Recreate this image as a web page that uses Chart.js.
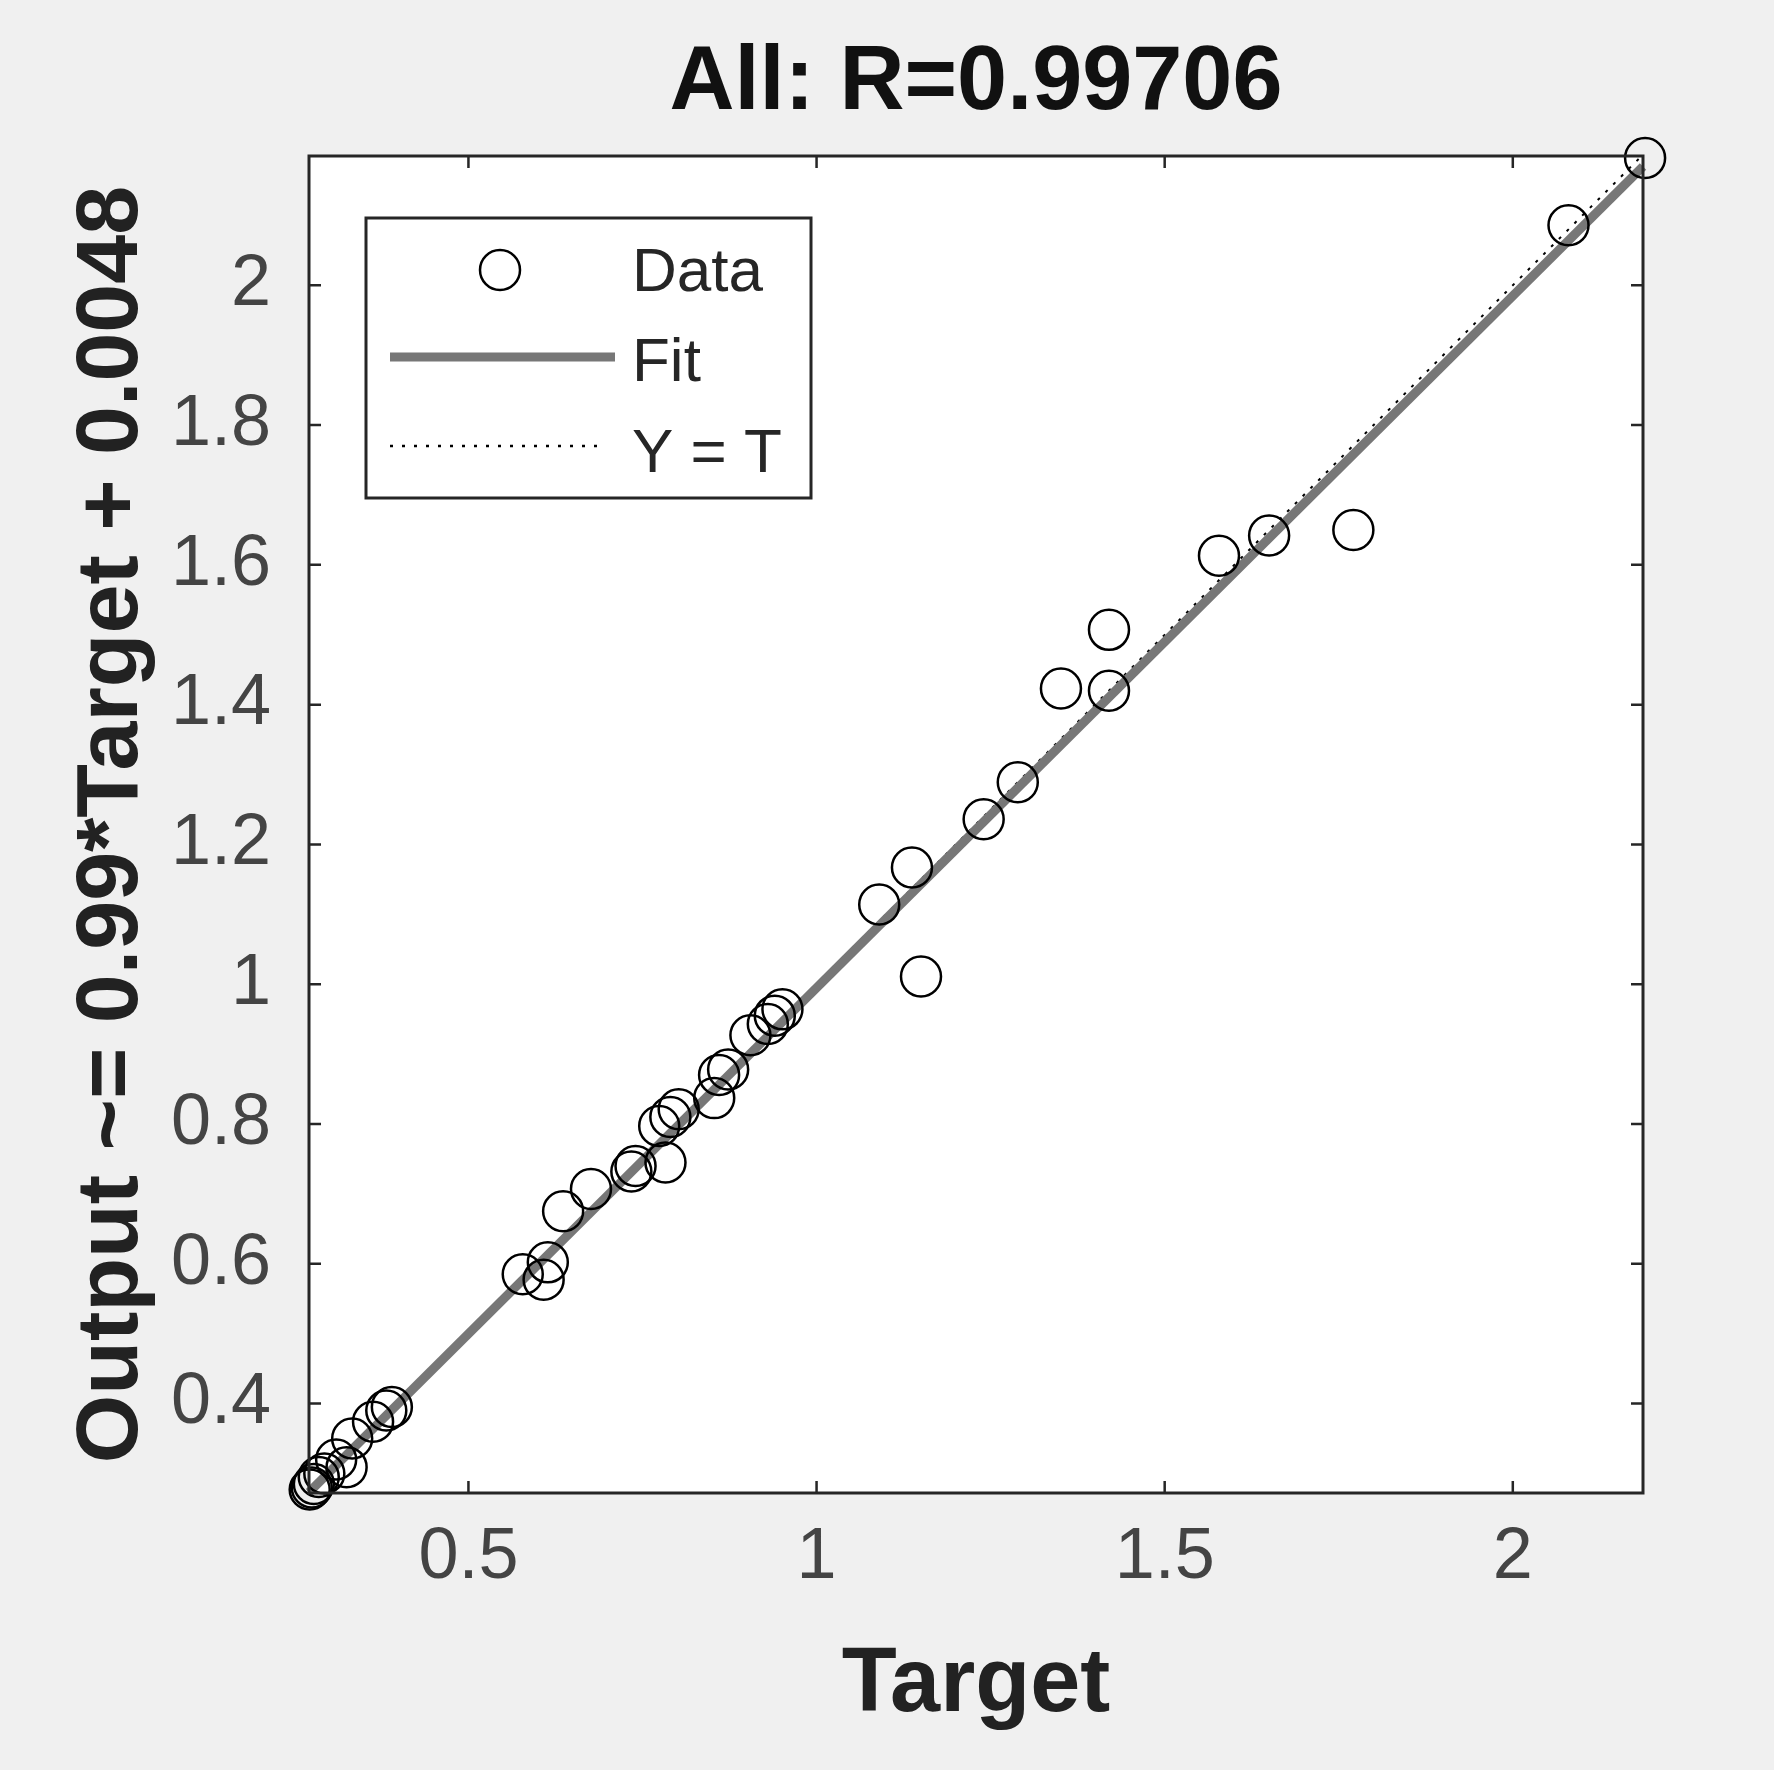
<!DOCTYPE html>
<html><head><meta charset="utf-8">
<script src="https://cdn.jsdelivr.net/npm/chart.js@4"></script>
<style>html,body{margin:0;padding:0;background:#f0f0f0}#w{width:1774px;height:1770px}</style>
</head><body><div id="w"><canvas id="c"></canvas></div>
<script>
const targets = [2.19,2.08,1.771,1.650,1.578,1.42,1.351,1.42,1.289,1.24,1.137,1.09,1.150,0.951,0.94,0.93,0.905,0.873,0.86,0.853,0.802,0.79,0.774,0.783,0.734,0.74,0.676,0.636,0.614,0.608,0.578,0.39,0.382,0.363,0.333,0.325,0.31,0.293,0.285,0.278,0.272,0.275];
const outputs = [2.182,2.086,1.650,1.642,1.613,1.507,1.423,1.42,1.289,1.236,1.167,1.114,1.011,0.964,0.955,0.943,0.927,0.878,0.87,0.837,0.821,0.81,0.797,0.745,0.732,0.74,0.707,0.675,0.602,0.577,0.585,0.395,0.390,0.374,0.35,0.309,0.32,0.30,0.295,0.285,0.277,0.28];
const xTicks = [0.5,1,1.5,2];
const yTicks = [0.4,0.6,0.8,1,1.2,1.4,1.6,1.8,2];
const fitSlope = 0.99, fitIntercept = 0.0048;
const axMin = 0.271, axMax = 2.187;
const fitLine = [{x:axMin,y:fitSlope*axMin+fitIntercept},{x:axMax,y:fitSlope*axMax+fitIntercept}];
const idLine = [{x:axMin,y:axMin},{x:axMax,y:axMax}];
const FONT = "'Liberation Sans', Arial, sans-serif";

const frame = {
  id:'frame',
  beforeDraw(ch){const {ctx,chartArea:a}=ch;ctx.save();ctx.fillStyle='#fff';ctx.fillRect(a.left,a.top,a.right-a.left,a.bottom-a.top);ctx.restore();},
  afterDraw(ch){
    const {ctx,chartArea:a,scales:{x,y}}=ch;ctx.save();
    ctx.strokeStyle='#262626';ctx.lineWidth=3;ctx.strokeRect(a.left,a.top,a.right-a.left,a.bottom-a.top);
    ctx.lineWidth=2.5;const L=12;
    xTicks.forEach(v=>{const p=x.getPixelForValue(v);ctx.beginPath();ctx.moveTo(p,a.bottom);ctx.lineTo(p,a.bottom-L);ctx.moveTo(p,a.top);ctx.lineTo(p,a.top+L);ctx.stroke();});
    yTicks.forEach(v=>{const p=y.getPixelForValue(v);ctx.beginPath();ctx.moveTo(a.left,p);ctx.lineTo(a.left+L,p);ctx.moveTo(a.right,p);ctx.lineTo(a.right-L,p);ctx.stroke();});
    ctx.fillStyle='#111';ctx.font="bold 90px "+FONT;ctx.textAlign='center';ctx.textBaseline='middle';
    ctx.fillText('All: R=0.99706',(a.left+a.right)/2,84);
    const lx=366,ly=218,lw=445,lh=280;
    ctx.fillStyle='#fff';ctx.fillRect(lx,ly,lw,lh);ctx.strokeStyle='#262626';ctx.lineWidth=3;ctx.strokeRect(lx,ly,lw,lh);
    ctx.font="62px "+FONT;ctx.fillStyle='#262626';ctx.textAlign='left';ctx.textBaseline='middle';
    ctx.lineWidth=2.5;ctx.strokeStyle='#000';ctx.beginPath();ctx.arc(500,270,20,0,Math.PI*2);ctx.stroke();
    ctx.fillText('Data',632,274);
    ctx.strokeStyle='#777';ctx.lineWidth=9;ctx.beginPath();ctx.moveTo(390,357);ctx.lineTo(615,357);ctx.stroke();
    ctx.fillText('Fit',632,364);
    ctx.strokeStyle='#000';ctx.lineWidth=2.5;ctx.setLineDash([3,9]);ctx.beginPath();ctx.moveTo(390,446);ctx.lineTo(600,446);ctx.stroke();ctx.setLineDash([]);
    ctx.fillText('Y = T',632,455);
    ctx.restore();
  }
};

new Chart(document.getElementById('c'),{
  type:'scatter',
  data:{datasets:[
    {label:'Fit',data:fitLine,type:'line',showLine:true,borderColor:'#777',borderWidth:9,pointRadius:0,order:2},
    {label:'Y = T',data:idLine,type:'line',showLine:true,borderColor:'#000',borderWidth:2,borderDash:[3,8],pointRadius:0,order:3},
    {label:'Data',data:targets.map((t,i)=>({x:t,y:outputs[i]})),pointStyle:'circle',pointRadius:20,pointBorderWidth:2.5,pointBorderColor:'#000',pointBackgroundColor:'rgba(0,0,0,0)',order:1}
  ]},
  options:{
    responsive:true,maintainAspectRatio:false,animation:false,clip:false,
    layout:{padding:{top:156,right:131,left:0,bottom:0}},
    plugins:{legend:{display:false},tooltip:{enabled:false}},
    scales:{
      x:{type:'linear',min:axMin,max:axMax,
        afterBuildTicks:s=>{s.ticks=xTicks.map(v=>({value:v}));},
        afterFit:s=>{s.height=277;},
        grid:{display:false},border:{display:false},
        ticks:{font:{family:FONT,size:72},color:'#444',padding:14,maxRotation:0,callback:v=>String(v)},
        title:{display:true,text:'Target',font:{family:FONT,size:90,weight:'bold'},color:'#222',padding:{top:0,bottom:30}}},
      y:{type:'linear',min:0.272,max:2.185,
        afterBuildTicks:s=>{s.ticks=yTicks.map(v=>({value:v}));},
        afterFit:s=>{s.width=309;},
        grid:{display:false},border:{display:false},
        ticks:{font:{family:FONT,size:72},color:'#444',padding:30,callback:v=>String(v)},
        title:{display:true,text:'Output ~= 0.99*Target + 0.0048',font:{family:FONT,size:88,weight:'bold'},color:'#222',padding:{top:60,bottom:0}}}
    }
  },
  plugins:[frame]
});
</script></body></html>
